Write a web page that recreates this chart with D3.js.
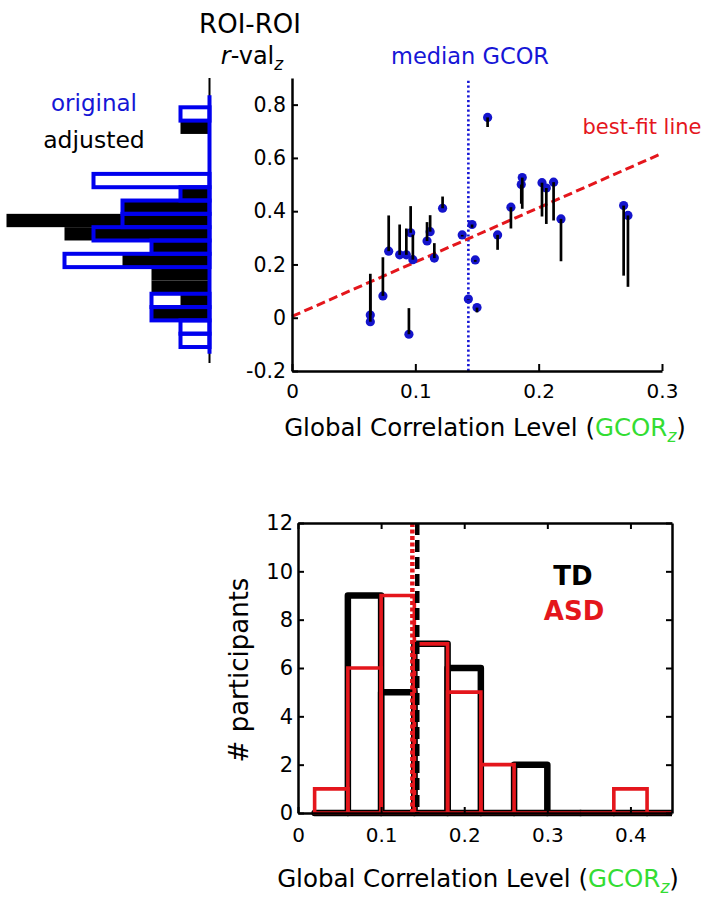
<!DOCTYPE html>
<html><head><meta charset="utf-8">
<script src="https://cdn.jsdelivr.net/npm/d3@7"></script>
<style>body{margin:0;background:#fff}svg{display:block}text{font-family:"DejaVu Sans",sans-serif}</style>
</head><body><svg id="c" width="708" height="900"></svg>
<script>
// ---------- DATA ----------
// scatter: TD participants, global correlation (x) vs ROI-ROI r (original = dot, adjusted = stem end)
const gcor      = [0.0635,0.0635,0.0737,0.0784,0.0873,0.0927,0.0948,0.0962,0.098,0.1095,0.112,0.1154,0.1221,0.138,0.146,0.1486,0.143,0.150,0.1586,0.1667,0.1775,0.1867,0.1859,0.2027,0.2062,0.2121,0.2181,0.2689,0.2724];
const rOriginal = [0.010,-0.015,0.082,0.250,0.236,0.236,-0.062,0.319,0.218,0.288,0.323,0.224,0.411,0.311,0.350,0.217,0.070,0.038,0.752,0.311,0.415,0.526,0.500,0.507,0.487,0.509,0.371,0.421,0.384];
const rAdjusted = [0.165,0.130,0.227,0.384,0.350,0.335,0.036,0.419,0.312,0.359,0.385,0.280,0.455,0.305,0.338,0.210,0.068,0.020,0.716,0.255,0.335,0.409,0.428,0.380,0.352,0.365,0.212,0.158,0.116];
const medianGcor = 0.143;
const fitIntercept = 0.005, fitSlope = 2.04;
const fitRange = [0, 0.3];
// side histogram of r values
const rBinLower = [-0.11,-0.06,-0.01,0.04,0.09,0.14,0.19,0.24,0.29,0.34,0.39,0.44,0.49,0.54,0.59,0.64,0.69,0.74];
const rBinWidth = 0.05;
const origCounts = [1,1,2,2,0,0,5,2,4,3,3,1,4,0,0,0,0,1];
const adjCounts  = [0,0,2,1,2,2,3,2,5,7,3,1,0,0,0,0,1,0];
const histBaseExtent = [-0.135, 0.835];
const histAxisExtent = [-0.17, 0.9];
// bottom histogram of GCOR
const gcorBinLower = [0.02,0.06,0.10,0.14,0.18,0.22,0.26,0.30,0.34,0.38,0.42];
const gcorBinWidth = 0.04;
const tdCounts  = [0,9,5,7,6,0,2,0,0,0,0];
const asdCounts = [1,6,9,7,5,2,0,0,0,1,0];
const tdMedian = 0.1435, asdMedian = 0.1376;
// ticks
const scatterXTicks = [0,0.1,0.2,0.3];
const scatterYTicks = [-0.2,0,0.2,0.4,0.6,0.8];
const histXTicks = [0,0.1,0.2,0.3,0.4];
const histYTicks = [0,2,4,6,8,10,12];

// ---------- COLOURS ----------
const BLUE = "#1616d6", DOT = "#1414cc", RED = "#e4161c", GREEN = "#33dd33";

const svg = d3.select("#c");

// ---------- SCALES ----------
const xS = d3.scaleLinear().domain([0,0.3]).range([292,662]);
const yS = d3.scaleLinear().domain([-0.2,0.9]).range([371,78]);
const cS = d3.scaleLinear().domain([0,1]).range([209.5,180.5]);
const xB = d3.scaleLinear().domain([0,0.45]).range([298,672]);
const yB = d3.scaleLinear().domain([0,12]).range([813,523]);

// ---------- SIDE HISTOGRAM ----------
const gH = svg.append("g");
gH.selectAll("rect.adj").data(rBinLower.map((b,i)=>({b,c:adjCounts[i]})).filter(d=>d.c>0))
  .join("rect").attr("class","adj")
  .attr("x", d=>cS(d.c)).attr("width", d=>cS(0)-cS(d.c))
  .attr("y", d=>yS(d.b+rBinWidth)).attr("height", d=>yS(d.b)-yS(d.b+rBinWidth))
  .attr("fill","#000");
gH.append("line").attr("x1",cS(0)).attr("x2",cS(0))
  .attr("y1",yS(histAxisExtent[0])).attr("y2",yS(histAxisExtent[1]))
  .attr("stroke","#000").attr("stroke-width",2);
gH.selectAll("rect.orig").data(rBinLower.map((b,i)=>({b,c:origCounts[i]})).filter(d=>d.c>0))
  .join("rect").attr("class","orig")
  .attr("x", d=>cS(d.c)).attr("width", d=>cS(0)-cS(d.c))
  .attr("y", d=>yS(d.b+rBinWidth)).attr("height", d=>yS(d.b)-yS(d.b+rBinWidth))
  .attr("fill","none").attr("stroke","#0000ee").attr("stroke-width",4);
gH.append("line").attr("x1",cS(0)).attr("x2",cS(0))
  .attr("y1",yS(histBaseExtent[0])).attr("y2",yS(histBaseExtent[1]))
  .attr("stroke","#0000ee").attr("stroke-width",4);

svg.append("text").attr("x",94).attr("y",111).attr("text-anchor","middle")
  .attr("font-size",23).attr("fill",BLUE).text("original");
svg.append("text").attr("x",94).attr("y",148).attr("text-anchor","middle")
  .attr("font-size",23.5).attr("fill","#000").text("adjusted");

// titles
svg.append("text").attr("x",250).attr("y",33).attr("text-anchor","middle")
  .attr("font-size",26).text("ROI-ROI");
const tr = svg.append("text").attr("x",252).attr("y",64).attr("text-anchor","middle").attr("font-size",24);
tr.append("tspan").attr("font-style","italic").text("r");
tr.append("tspan").text("-val");
tr.append("tspan").attr("font-style","italic").attr("font-size",17).attr("dy",6).text("z");

svg.append("text").attr("x",470).attr("y",64).attr("text-anchor","middle")
  .attr("font-size",22.5).attr("fill",BLUE).text("median GCOR");

// ---------- SCATTER ----------
const gS = svg.append("g");
gS.append("line").attr("x1",xS(medianGcor)).attr("x2",xS(medianGcor))
  .attr("y1",yS(-0.2)).attr("y2",yS(0.89))
  .attr("stroke",BLUE).attr("stroke-width",2.6).attr("stroke-dasharray","2.2,2.6");
gS.append("line")
  .attr("x1",xS(fitRange[0])).attr("y1",yS(fitIntercept+fitSlope*fitRange[0]))
  .attr("x2",xS(fitRange[1])).attr("y2",yS(fitIntercept+fitSlope*fitRange[1]))
  .attr("stroke",RED).attr("stroke-width",3).attr("stroke-dasharray","9,4.5");

const pts = gcor.map((g,i)=>({g,o:rOriginal[i],a:rAdjusted[i]}));
gS.selectAll("circle").data(pts).join("circle")
  .attr("cx",d=>xS(d.g)).attr("cy",d=>yS(d.o)).attr("r",4.6).attr("fill",DOT);
gS.selectAll("line.stem").data(pts).join("line").attr("class","stem")
  .attr("x1",d=>xS(d.g)).attr("x2",d=>xS(d.g))
  .attr("y1",d=>yS(d.o)).attr("y2",d=>yS(d.a))
  .attr("stroke","#000").attr("stroke-width",2.7);

svg.append("text").attr("x",642).attr("y",134).attr("text-anchor","middle")
  .attr("font-size",21).attr("fill",RED).text("best-fit line");

function styleAxis(g, fs){
  g.attr("font-size",fs);
  g.select(".domain").attr("stroke","#000").attr("stroke-width",2.5);
  g.selectAll(".tick line").attr("stroke","#000").attr("stroke-width",2);
  g.selectAll(".tick text").attr("fill","#000");
}
const fmt = d => String(d);
const axSX = svg.append("g").attr("transform",`translate(0,${yS(-0.2)})`)
  .call(d3.axisBottom(xS).tickValues(scatterXTicks).tickFormat(fmt).tickSize(-7).tickSizeOuter(0).tickPadding(13));
styleAxis(axSX,20);
const axSY = svg.append("g").attr("transform",`translate(${xS(0)},0)`)
  .call(d3.axisLeft(yS).tickValues(scatterYTicks).tickFormat(fmt).tickSize(-6).tickSizeOuter(0).tickPadding(6));
styleAxis(axSY,20.5);

function gcorLabel(x,y){
  const t = svg.append("text").attr("x",x).attr("y",y).attr("text-anchor","middle").attr("font-size",24.5);
  t.append("tspan").text("Global Correlation Level (");
  t.append("tspan").attr("fill",GREEN).text("GCOR");
  t.append("tspan").attr("fill",GREEN).attr("font-style","italic").attr("font-size",17).attr("dy",6).text("z");
  t.append("tspan").attr("dy",-6).text(")");
}
gcorLabel(485,436);

// ---------- BOTTOM HISTOGRAM ----------
svg.append("clipPath").attr("id","clipB").append("rect")
  .attr("x",xB(0)).attr("y",yB(12)).attr("width",xB(0.45)-xB(0)).attr("height",yB(0)-yB(12)+4);
const gB = svg.append("g").attr("clip-path","url(#clipB)");
function barPath(b,c){
  const x0=xB(b), x1=xB(b+gcorBinWidth), y0=yB(0), y1=yB(c);
  return `M${x0},${y0}V${y1}H${x1}V${y0}Z`;
}
gB.selectAll("path.td").data(gcorBinLower.map((b,i)=>({b,c:tdCounts[i]}))).join("path").attr("class","td")
  .attr("d",d=>barPath(d.b,d.c)).attr("fill","none").attr("stroke","#000")
  .attr("stroke-width",6.5).attr("stroke-linejoin","round");
gB.selectAll("path.asd").data(gcorBinLower.map((b,i)=>({b,c:asdCounts[i]}))).join("path").attr("class","asd")
  .attr("d",d=>barPath(d.b,d.c)).attr("fill","none").attr("stroke",RED)
  .attr("stroke-width",3.6);
svg.append("line").attr("x1",xB(tdMedian)).attr("x2",xB(tdMedian)).attr("y1",yB(12)).attr("y2",yB(0))
  .attr("stroke","#000").attr("stroke-width",4.5).attr("stroke-dasharray","12,5");
svg.append("line").attr("x1",xB(asdMedian)).attr("x2",xB(asdMedian)).attr("y1",yB(12)).attr("y2",yB(0))
  .attr("stroke",RED).attr("stroke-width",4.5).attr("stroke-dasharray","4,2.5");

const axBX = svg.append("g").attr("transform",`translate(0,${yB(0)})`)
  .call(d3.axisBottom(xB).tickValues(histXTicks).tickFormat(fmt).tickSize(-6).tickSizeOuter(0).tickPadding(14.5));
styleAxis(axBX,20);
const axBT = svg.append("g").attr("transform",`translate(0,${yB(12)})`)
  .call(d3.axisTop(xB).tickValues(histXTicks).tickFormat(()=>"").tickSize(-6).tickSizeOuter(0));
styleAxis(axBT,20);
const axBY = svg.append("g").attr("transform",`translate(${xB(0)},0)`)
  .call(d3.axisLeft(yB).tickValues(histYTicks).tickFormat(fmt).tickSize(-6).tickSizeOuter(0).tickPadding(5));
styleAxis(axBY,21);
const axBR = svg.append("g").attr("transform",`translate(${xB(0.45)},0)`)
  .call(d3.axisRight(yB).tickValues(histYTicks).tickFormat(()=>"").tickSize(-6).tickSizeOuter(0));
styleAxis(axBR,21);

svg.append("text").attr("transform","translate(248,670) rotate(-90)").attr("text-anchor","middle")
  .attr("font-size",26).text("# participants");
svg.append("text").attr("x",573).attr("y",585).attr("text-anchor","middle")
  .attr("font-size",26).attr("font-weight","bold").attr("fill","#000").text("TD");
svg.append("text").attr("x",574).attr("y",620).attr("text-anchor","middle")
  .attr("font-size",26).attr("font-weight","bold").attr("fill",RED).text("ASD");

gcorLabel(478,887);
</script></body></html>
